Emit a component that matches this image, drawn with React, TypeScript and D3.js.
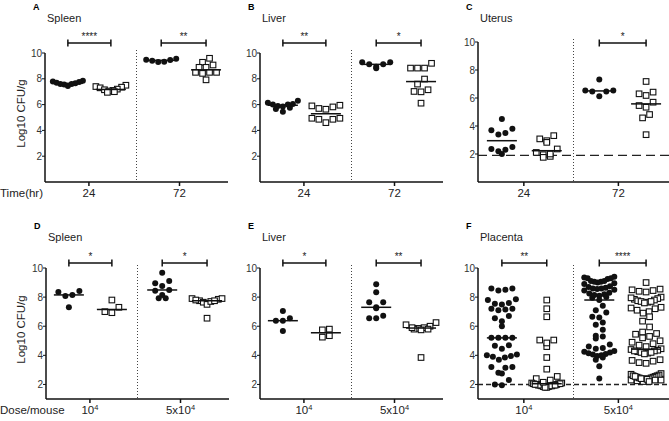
import React from "react";
import * as d3 from "d3";

// ---------- DATA (log10 CFU/g) ----------
const timeTicks = ["24", "72"];
const doseTicks = [
  { base: "10", sup: "4" },
  { base: "5x10", sup: "4" },
];
const yTickValues = [2, 4, 6, 8, 10];

// A – Spleen, time course
const spleen24Filled = [7.85, 7.8, 7.75, 7.7, 7.65, 7.6, 7.6, 7.55, 7.45];
const spleen24Open = [7.5, 7.4, 7.35, 7.3, 7.2, 7.15, 7.1, 7.05, 7.0, 6.95];
const spleen72Filled = [9.48, 9.4, 9.3, 9.32, 9.46, 9.55];
const spleen72Open = [9.59, 9.28, 9.07, 8.89, 8.89, 8.5, 8.42, 8.5, 8.5, 7.92];

// B – Liver, time course
const liver24Filled = [6.3, 6.05, 5.9, 5.75, 5.45, 5.65, 6.0, 5.85, 6.15, 6.0];
const liver24Open = [5.9, 5.7, 5.64, 5.82, 5.95, 4.94, 4.86, 4.6, 4.86, 4.94];
const liver72Filled = [9.28, 9.12, 8.81, 8.93, 9.12, 9.28];
const liver72Open = [9.2, 8.83, 8.83, 8.83, 7.98, 7.59, 7.15, 6.99, 7.02, 6.11];

// C – Uterus, time course
const uterus24Filled = [4.5, 3.8, 3.5, 3.4, 3.7, 2.5, 2.3, 2.0, 2.2, 2.35];
const uterus24Open = [3.31, 2.95, 2.83, 3.08, 2.11, 1.95, 1.76, 1.83, 2.0, 2.36];
const uterus72Filled = [7.33, 6.54, 6.47, 6.13, 6.47, 6.54];
const uterus72Open = [7.18, 6.3, 6.18, 6.42, 5.7, 5.34, 5.46, 4.82, 4.58, 3.38];

// D – Spleen, dose
const spleenLowFilled = [8.42, 8.15, 8.08, 8.35, 7.3];
const spleenLowOpen = [7.8, 7.3, 6.93, 7.0];
const spleenHighFilled = [9.68, 8.95, 9.11, 8.77, 8.49, 8.44, 8.15, 7.92, 7.92];
const spleenHighOpen = [7.85, 7.9, 7.75, 7.9, 7.8, 7.65, 7.5, 7.7, 7.75, 6.55];

// E – Liver, dose
const liverLowFilled = [7.05, 6.38, 6.38, 6.55, 5.67];
const liverLowOpen = [5.75, 5.25, 5.35, 5.8];
const liverHighFilled = [8.88, 8.33, 7.65, 7.3, 7.23, 7.65, 6.72, 6.55, 6.55];
const liverHighOpen = [6.0, 5.9, 5.85, 5.8, 5.75, 5.8, 5.9, 6.1, 6.25, 3.85];

// F – Placenta, dose
const placentaLowFilled = [
  8.6, 8.5, 8.45, 8.6, 7.85, 7.8, 7.55, 7.5, 7.6, 7.2, 7.15, 7.2, 7.1, 6.7, 6.55,
  6.35, 6.0, 5.2, 5.2, 5.2, 5.2, 4.65, 4.45, 4.7, 4.0, 3.9, 3.85, 3.7, 3.95, 4.05,
  3.2, 3.15, 3.2, 2.8, 2.75, 2.3, 1.95, 2.0,
];
const placentaLowOpen = [
  7.8, 7.2, 6.65, 5.05, 4.6, 4.85, 5.05, 3.85, 3.05, 2.55, 2.3, 2.4, 2.1, 2.05, 2.0,
  1.95, 1.9, 1.85, 1.8, 2.0, 1.95, 2.05, 1.9, 1.85, 1.95, 2.0, 2.1, 1.9, 2.05, 1.8,
  2.15, 1.95,
];
const placentaHighFilled = [
  9.4, 9.35, 9.3, 9.25, 9.3, 9.05, 9.1, 9.0, 8.95, 9.05, 8.9, 9.1, 8.7, 8.65, 8.6,
  8.5, 8.55, 8.45, 8.75, 8.6, 8.3, 8.2, 8.1, 8.0, 8.25, 7.95, 8.15, 7.8, 7.4, 7.1,
  6.95, 6.65, 6.6, 6.25, 6.1, 5.75, 5.35, 5.3, 5.15, 4.75, 4.6, 4.5, 4.45, 4.3, 4.25,
  4.2, 4.15, 4.1, 4.05, 4.0, 3.95, 3.85, 3.7, 3.25, 2.4,
];
const placentaHighOpen = [
  9.0, 8.55, 8.45, 8.35, 8.5, 8.4, 8.0, 7.9, 7.85, 7.75, 7.7, 7.8, 7.65, 7.6, 7.95,
  7.7, 7.3, 7.2, 7.1, 7.0, 6.9, 7.25, 6.65, 6.35, 5.95, 5.6, 5.45, 5.3, 5.2, 5.5,
  5.0, 4.9, 4.8, 4.7, 4.6, 4.4, 4.45, 4.35, 4.3, 4.25, 4.2, 4.15, 4.1, 4.3, 4.2, 3.7,
  3.6, 3.5, 3.45, 3.65, 2.75, 2.7, 2.65, 2.6, 2.55, 2.5, 2.45, 2.4, 2.35, 2.3, 2.25,
  2.2, 2.5, 2.4, 2.3, 2.6, 2.35, 2.45, 2.55, 2.2, 2.3, 2.4,
];

// ---------- LAYOUT ----------
type Panel = {
  letter: string;
  title: string;
  x0: number;
  x1: number;
  yTop: number;
  yBot: number;
  domain: [number, number];
  groups: number[][];
  stars: (string | null)[];
  kind: "time" | "dose";
  yLabel: boolean;
  limit: number | null;
  dash: string;
};

const TOP = { yTop: 53, yBot: 182, domain: [0, 10] as [number, number] };
const BOT = { yTop: 268, yBot: 399, domain: [1, 10] as [number, number] };

const panels: Panel[] = [
  { letter: "A", title: "Spleen", x0: 45, x1: 228, ...TOP, groups: [spleen24Filled, spleen24Open, spleen72Filled, spleen72Open], stars: ["****", "**"], kind: "time", yLabel: true, limit: null, dash: "" },
  { letter: "B", title: "Liver", x0: 260, x1: 443, ...TOP, groups: [liver24Filled, liver24Open, liver72Filled, liver72Open], stars: ["**", "*"], kind: "time", yLabel: false, limit: null, dash: "" },
  { letter: "C", title: "Uterus", x0: 478, x1: 669, ...TOP, yTop: 42, groups: [uterus24Filled, uterus24Open, uterus72Filled, uterus72Open], stars: [null, "*"], kind: "time", yLabel: false, limit: 1.9, dash: "9,5" },
  { letter: "D", title: "Spleen", x0: 46, x1: 229, ...BOT, groups: [spleenLowFilled, spleenLowOpen, spleenHighFilled, spleenHighOpen], stars: ["*", "*"], kind: "dose", yLabel: true, limit: null, dash: "" },
  { letter: "E", title: "Liver", x0: 260, x1: 443, ...BOT, groups: [liverLowFilled, liverLowOpen, liverHighFilled, liverHighOpen], stars: ["*", "**"], kind: "dose", yLabel: false, limit: null, dash: "" },
  { letter: "F", title: "Placenta", x0: 478, x1: 669, ...BOT, groups: [placentaLowFilled, placentaLowOpen, placentaHighFilled, placentaHighOpen], stars: ["**", "****"], kind: "dose", yLabel: false, limit: 2.0, dash: "5,3" },
];

const groupFrac = [0.125, 0.36, 0.635, 0.88];
const tickFrac = [0.24, 0.735];

// Prism-like column scatter: bin into rows, spread centre-out
function swarm(values: number[], y: (v: number) => number) {
  const pts = values.map((v) => ({ v, py: y(v), dx: 0 }));
  const sorted = [...pts].sort((a, b) => a.py - b.py);
  const rows: typeof pts[] = [];
  let cur: typeof pts = [];
  let start = 0;
  for (const p of sorted) {
    if (cur.length && p.py - start > 6) {
      rows.push(cur);
      cur = [];
    }
    if (!cur.length) start = p.py;
    cur.push(p);
  }
  if (cur.length) rows.push(cur);
  for (const row of rows) {
    const n = row.length;
    const sp = n > 1 ? Math.min(7, 30 / (n - 1)) : 0;
    const slots = d3.range(n).map((i) => i - (n - 1) / 2);
    slots.sort((a, b) => Math.abs(a) - Math.abs(b) || a - b);
    const asc = [...row].sort((a, b) => a.v - b.v);
    asc.forEach((p, j) => (p.dx = slots[j] * sp));
  }
  return pts;
}

const FONT = "'Liberation Sans', Arial, Helvetica, sans-serif";

function PanelView({ p }: { p: Panel }) {
  const y = d3.scaleLinear().domain(p.domain).range([p.yBot, p.yTop]);
  const fx = d3.scaleLinear().domain([0, 1]).range([p.x0, p.x1]);
  const top = p.kind === "time";
  const bracketY = top ? 43 : 263;
  const letterY = top ? 10 : 229;
  const titleY = top ? 22 : 241;
  const labelBase = p.yBot + 15;
  return (
    <g>
      <text x={p.x0 - 12} y={letterY} fontSize={9} fontWeight="bold" fontFamily={FONT}>{p.letter}</text>
      <text x={p.x0 + 2} y={titleY} fontSize={11} fontFamily={FONT} fill="#222">{p.title}</text>
      {p.yLabel && (
        <text transform={`translate(25,${(p.yTop + p.yBot) / 2 - 4}) rotate(-90)`} textAnchor="middle" fontSize={11.5} fontFamily={FONT} fill="#222">Log10 CFU/g</text>
      )}
      {/* axes */}
      <line x1={p.x0} x2={p.x0} y1={p.yTop} y2={p.yBot} stroke="#111" strokeWidth={1.5} />
      <line x1={p.x0} x2={p.x1} y1={p.yBot} y2={p.yBot} stroke="#111" strokeWidth={1.5} />
      {yTickValues.map((t) => (
        <g key={t}>
          <line x1={p.x0 - 3} x2={p.x0} y1={y(t)} y2={y(t)} stroke="#111" strokeWidth={1} />
          <text x={p.x0 - 3} y={y(t) + 3.5} textAnchor="end" fontSize={10} fontFamily={FONT} fill="#333">{t}</text>
        </g>
      ))}
      {tickFrac.map((f, i) => (
        <g key={i}>
          <line x1={fx(f)} x2={fx(f)} y1={p.yBot} y2={p.yBot + 4} stroke="#111" strokeWidth={1.5} />
          <text x={fx(f)} y={labelBase} textAnchor="middle" fontSize={11.5} fontFamily={FONT} fill="#222">
            {top ? timeTicks[i] : (
              <>
                {doseTicks[i].base}
                <tspan fontSize={7.5} dy={-4.5}>{doseTicks[i].sup}</tspan>
              </>
            )}
          </text>
        </g>
      ))}
      {/* divider */}
      <line x1={fx(0.5)} x2={fx(0.5)} y1={p.yTop - 3} y2={p.yBot} stroke="#444" strokeWidth={1} strokeDasharray="1,2" />
      {/* limit of detection */}
      {p.limit !== null && (
        <line x1={p.x0} x2={p.x1} y1={y(p.limit)} y2={y(p.limit)} stroke="#222" strokeWidth={1.4} strokeDasharray={p.dash} />
      )}
      {/* points */}
      {p.groups.map((vals, gi) => {
        const cx = fx(groupFrac[gi]);
        const pts = swarm(vals, y);
        const med = d3.median(vals) as number;
        const filled = gi % 2 === 0;
        return (
          <g key={gi}>
            {pts.map((pt, k) =>
              filled ? (
                <circle key={k} cx={cx + pt.dx} cy={pt.py} r={3} fill="#111" />
              ) : (
                <rect key={k} x={cx + pt.dx - 2.8} y={pt.py - 2.8} width={5.6} height={5.6} fill="#fff" stroke="#111" strokeWidth={1.1} />
              )
            )}
            <line x1={cx - 15} x2={cx + 15} y1={y(med)} y2={y(med)} stroke="#111" strokeWidth={1.5} />
          </g>
        );
      })}
      {/* significance brackets */}
      {p.stars.map((s, i) => {
        if (!s) return null;
        const a = fx(groupFrac[i * 2]);
        const b = fx(groupFrac[i * 2 + 1]);
        return (
          <g key={i}>
            <line x1={a} x2={b} y1={bracketY} y2={bracketY} stroke="#111" strokeWidth={1.5} />
            <line x1={a} x2={a} y1={bracketY - 3.5} y2={bracketY + 3.5} stroke="#111" strokeWidth={1.5} />
            <line x1={b} x2={b} y1={bracketY - 3.5} y2={bracketY + 3.5} stroke="#111" strokeWidth={1.5} />
            <text x={(a + b) / 2} y={bracketY - 3} textAnchor="middle" fontSize={10} fontFamily={FONT} fill="#222">{s}</text>
          </g>
        );
      })}
    </g>
  );
}

export default function App() {
  return (
    <svg width={669} height={421} style={{ position: "absolute", left: 0, top: 0, background: "#fff" }}>
      <rect width={669} height={421} fill="#fff" />
      {panels.map((p) => (
        <PanelView key={p.letter} p={p} />
      ))}
      <text x={0} y={197} fontSize={11.5} fontFamily={FONT} fill="#222">Time(hr)</text>
      <text x={0} y={414} fontSize={11.5} fontFamily={FONT} fill="#222">Dose/mouse</text>
    </svg>
  );
}
